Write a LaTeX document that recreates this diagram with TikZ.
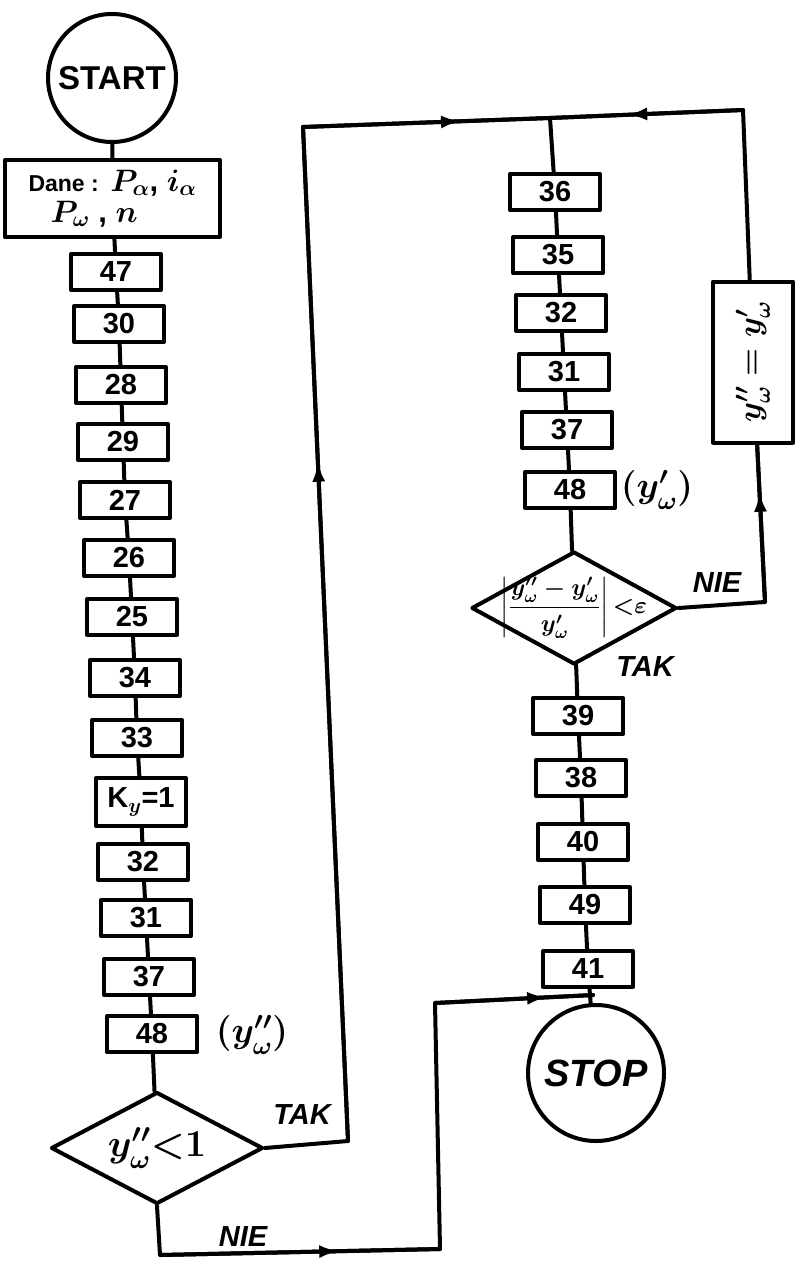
\RequirePackage{fix-cm}
\documentclass[tikz,border=0pt]{standalone}
\usepackage{fontspec}
\setmainfont{Liberation Sans}
\usepackage{amsmath}
\usetikzlibrary{arrows.meta,decorations.markings,shapes.geometric}

\tikzset{
  vez/.style={line width=4pt, line cap=round, line join=round},
  blok/.style={draw, vez, minimum width=90pt, minimum height=36pt, inner sep=0pt,
    font=\fontsize{29}{30}\selectfont\bfseries\boldmath},
  krug/.style={draw, circle, vez, inner sep=0pt},
  romb/.style={draw, diamond, vez, inner sep=0pt},
  napis/.style={font=\fontsize{29}{30}\selectfont\bfseries\itshape\boldmath},
  strelica/.style={postaction={decorate}, decoration={markings,
    mark=at position #1 with {\arrow{Latex[length=20pt,width=13pt]}}}},
}

\begin{document}
\begin{tikzpicture}[x=1pt,y=1pt,yscale=-1,xscale=1]
    \useasboundingbox (0,0) rectangle (802,1271);

    %Shape: Circle [START]
    \node[krug, minimum size=128pt, font=\fontsize{33}{35}\selectfont\bfseries] (start) at (112,78) {START};
    %Shape: Rectangle [Dane]
    \node[blok, minimum width=215pt, minimum height=77pt, align=left,
      font=\fontsize{31}{31}\selectfont\bfseries\boldmath] (dane) at (112.5,198.5)
      {{\fontsize{23}{23}\selectfont Dane :} $P_\alpha$, $i_\alpha$\\ \hspace{22pt}$P_\omega$ , $n$};

    %Shape: Rectangles, left column
    \foreach \ime/\x/\y/\tekst in {b47/116/272/47, b30/119/324/30, b28/121/385/28,
        b29/123/442/29, b27/125/500/27, b26/129/558/26, b25/132/617/25,
        b34/135/678/34, b33/137/738/33, b32/143/862/32, b31/146/918/31,
        b37/149/977/37, b48/152/1034/48}
      \node[blok] (\ime) at (\x,\y) {\tekst};
    \node[blok, minimum height=48pt] (bky) at (141,802) {K$_y$=1};

    %Shape: Diamond, left
    \node[romb, minimum width=212pt, minimum height=112pt] (d1) at (157,1148) {};
    \node[font=\fontsize{38}{40}\selectfont\boldmath] (d1t) at (d1) {$y''_\omega{<}1$};

    %Shape: Rectangles, right column
    \foreach \ime/\x/\y/\tekst in {r36/555/192/36, r35/558/255/35, r32/561/313/32,
        r31/564/372/31, r37/567/430/37, r48/570/490/48, r39/578/716/39,
        r38/581/778/38, r40/583/842/40, r49/585/905/49, r41/588/969/41}
      \node[blok] (\ime) at (\x,\y) {\tekst};

    %Shape: Diamond, right
    \node[romb, minimum width=205pt, minimum height=113pt] (d2) at (574,608) {};
    \node[font=\fontsize{24}{26}\selectfont\boldmath] (d2t) at (d2)
      {$\left|\dfrac{y''_\omega-y'_\omega}{y'_\omega}\right|{<}\varepsilon$};

    %Shape: Rectangle, vertical
    \node[blok, rotate=90, minimum width=161pt, minimum height=80pt,
      font=\fontsize{32}{34}\selectfont\boldmath] (yy) at (753,362) {$y''_\omega=y'_\omega$};

    %Shape: Circle [STOP]
    \node[krug, minimum size=136pt, font=\fontsize{38}{40}\selectfont\bfseries\itshape] (stop) at (596,1073) {STOP};

    % Text Node
    \node[font=\fontsize{36}{38}\selectfont\boldmath] (l48) at (252,1035) {$(y''_\omega)$};
    \node[font=\fontsize{36}{38}\selectfont\boldmath] (r48l) at (657,490) {$(y'_\omega)$};
    \node[napis] (tak1) at (302,1115) {TAK};
    \node[napis] (nie1) at (243,1237) {NIE};
    \node[napis] (nie2) at (717,583) {NIE};
    \node[napis] (tak2) at (645,667) {TAK};

    % chains
    \foreach \a/\b in {start/dane, dane/b47, b47/b30, b30/b28, b28/b29, b29/b27,
        b27/b26, b26/b25, b25/b34, b34/b33, b33/bky, bky/b32, b32/b31,
        b31/b37, b37/b48, b48/d1}
      \draw[vez] (\a) -- (\b);
    \foreach \a/\b in {r36/r35, r35/r32, r32/r31, r31/r37, r37/r48, r48/d2,
        d2/r39, r39/r38, r38/r40, r40/r49, r49/r41, r41/stop}
      \draw[vez] (\a) -- (\b);

    % branches
    \coordinate (t1) at (348,1141);
    \coordinate (t2) at (303,127);
    \coordinate (g1) at (550,118);
    \coordinate (g2) at (743,110);
    \coordinate (n1) at (765,602);
    \coordinate (n2) at (160,1255);
    \coordinate (n3) at (440,1249);
    \coordinate (n4) at (435,1003);
    \coordinate (ulaz) at (593,995);

    \draw[vez] (d1.east) -- (t1) -- (t2) -- (g1) -- (r36);
    \draw[vez, strelica=0.67] (t1) -- (t2);
    \draw[vez, strelica=0.64] (t2) -- (g1);
    \draw[vez] (d2.east) -- (n1) -- (yy) -- (g2) -- (g1);
    \draw[vez, strelica=0.7] (n1) -- (yy);
    \draw[vez, strelica=0.6] (g2) -- (g1);
    \draw[vez] (d1.south) -- (n2) -- (n3) -- (n4) -- (ulaz);
    \draw[vez, strelica=0.64] (n2) -- (n3);
    \draw[vez, strelica=0.71] (n4) -- (ulaz);

\end{tikzpicture}
\end{document}
